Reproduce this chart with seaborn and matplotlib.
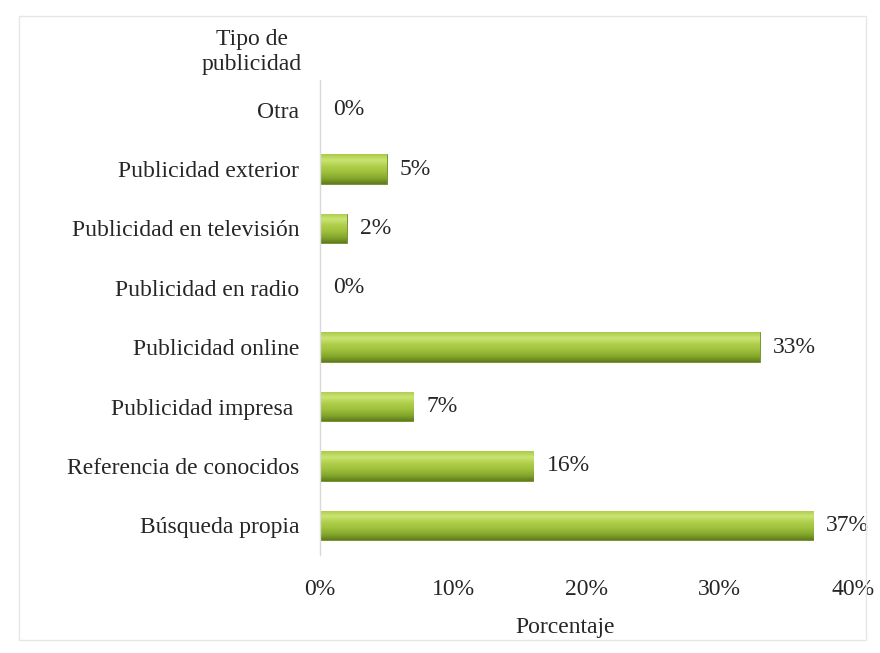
import numpy as np
import pandas as pd
import matplotlib
matplotlib.use("Agg")
import matplotlib.pyplot as plt
import seaborn as sns
from matplotlib.colors import LinearSegmentedColormap
from matplotlib.patches import Rectangle

categorias = [
    "Otra",
    "Publicidad exterior",
    "Publicidad en televisión",
    "Publicidad en radio",
    "Publicidad online",
    "Publicidad impresa ",
    "Referencia de conocidos",
    "Búsqueda propia",
]
porcentajes = [0, 5, 2, 0, 33, 7, 16, 37]
ticks_x = [0, 10, 20, 30, 40]
etiquetas_x = ["0%", "10%", "20%", "30%", "40%"]

sns.set_theme(style="white")
plt.rcParams["font.family"] = ["Liberation Serif", "DejaVu Serif"]

FS = 17
TXT = "#262626"

df = pd.DataFrame({"tipo": categorias, "pct": porcentajes})

fig = plt.figure(figsize=(8.8, 6.53), dpi=100)
ax = fig.add_axes([0.3636, 0.15, 0.6057, 0.7275])

sns.barplot(data=df, x="pct", y="tipo", orient="h", order=categorias,
            color="#9bbb3b", width=0.5, ax=ax, saturation=1)

# cylinder-like vertical shading on each bar
shade = LinearSegmentedColormap.from_list(
    "verde", ["#5f7b1c", "#86a92d", "#9fc13d", "#b0cf4b", "#cbe474", "#a9c946"])
grad = np.linspace(0, 1, 256).reshape(-1, 1)
for patch in ax.patches:
    x0, y0 = patch.get_x(), patch.get_y()
    w, h = patch.get_width(), patch.get_height()
    if w <= 0:
        continue
    patch.set_edgecolor("#6b8a22")
    patch.set_linewidth(0.6)
    im = ax.imshow(grad, extent=[x0, x0 + w, y0 + h, y0], origin="lower",
                   cmap=shade, aspect="auto", zorder=patch.get_zorder() + 0.1)
    im.set_clip_path(patch)

for i, v in enumerate(porcentajes):
    ax.text(v + 1.0, i, f"{v}%", va="center", ha="left",
            fontsize=FS, color=TXT)

ax.set_xlim(0, 40)
ax.set_ylim(len(categorias) - 0.5, -0.5)
ax.set_xticks(ticks_x)
ax.set_xticklabels(etiquetas_x, fontsize=FS, color=TXT)
ax.tick_params(axis="y", labelsize=FS, labelcolor=TXT, pad=15, length=0)
ax.tick_params(axis="x", pad=17, length=0)
ax.set_ylabel("")
ax.set_xlabel("Porcentaje", fontsize=FS, color=TXT)
ax.xaxis.set_label_coords(0.46, -0.13)

for s in ["top", "right", "bottom"]:
    ax.spines[s].set_visible(False)
ax.spines["left"].set_color("#d9d9d9")
ax.spines["left"].set_linewidth(1.0)

fig.text(0.286, 0.885, "Tipo de\npublicidad", ha="center", va="bottom",
         fontsize=FS, color=TXT, linespacing=1.25)

fig.patches.append(Rectangle((0.022, 0.02), 0.962, 0.955, transform=fig.transFigure,
                             fill=False, edgecolor="#e6e6e6", linewidth=1.0))

fig.savefig("out.png", dpi=100)
